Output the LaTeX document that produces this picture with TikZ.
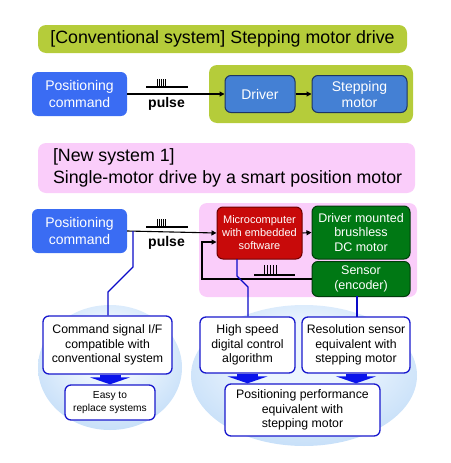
\documentclass[tikz,border=0pt]{standalone}
\usepackage{fontspec}
\setmainfont{Liberation Sans}
\usetikzlibrary{arrows.meta}
\definecolor{ygreen}{RGB}{181,204,58}
\definecolor{cmdblue}{RGB}{58,108,243}
\definecolor{drvblue}{RGB}{68,128,212}
\definecolor{drvedge}{RGB}{28,52,100}
\definecolor{pinkbg}{RGB}{250,205,250}
\definecolor{microred}{RGB}{200,10,10}
\definecolor{microedge}{RGB}{110,0,0}
\definecolor{dgreen}{RGB}{0,120,20}
\definecolor{dgreenedge}{RGB}{0,60,10}
\definecolor{conblue}{RGB}{10,10,200}
\definecolor{boxedge}{RGB}{25,25,205}
\definecolor{blockblue}{RGB}{10,20,235}
\definecolor{ellin}{RGB}{236,245,254}
\definecolor{ellout}{RGB}{155,198,242}
\pgfdeclareradialshading{ellshade}{\pgfpoint{0bp}{8bp}}{color(0bp)=(ellin); color(12bp)=(ellin); color(50bp)=(ellout); color(60bp)=(ellout)}
\begin{document}
\begin{tikzpicture}[x=1pt,y=-1pt,
  base/.style={rectangle, rounded corners=6pt, inner sep=0pt, align=center},
  titlebox/.style={base, rounded corners=8pt, fill=#1, draw=none, font=\fontsize{17.8}{22}\selectfont},
  titletext/.style={inner sep=0pt, align=left, font=\fontsize{17.8}{22}\selectfont},
  cmdbox/.style={base, fill=cmdblue, text=white, minimum width=95pt, minimum height=44pt, font=\fontsize{14}{17}\selectfont},
  drvbox/.style={base, fill=drvblue, draw=drvedge, line width=1pt, text=white, minimum height=37pt, font=\fontsize{14}{16}\selectfont},
  grpbox/.style={base, rounded corners=8pt, fill=#1, draw=none},
  redbox/.style={base, fill=microred, draw=microedge, line width=1pt, text=white, font=\fontsize{11}{13}\selectfont},
  grnbox/.style={base, fill=dgreen, draw=dgreenedge, line width=1pt, text=white, font=\fontsize{12.5}{14.5}\selectfont},
  whbox/.style={base, fill=white, draw=boxedge, line width=1.3pt, font=\fontsize{12.3}{14.5}\selectfont},
  arr/.style={line width=1.1pt, -{Triangle[length=5pt,width=5pt]}},
  con/.style={conblue, line width=1.3pt},
  block/.style={blockblue, line width=21pt, -{Triangle[length=7pt,width=40pt]}},
  pulse/.style={line width=1.2pt},
  lbl/.style={inner sep=0pt, font=\fontsize{14}{16}\selectfont\bfseries},
  ell/.style={shading=ellshade, draw=none}
]
\useasboundingbox (0,0) rectangle (450,463);

% ---------- Conventional system ----------
\node[titlebox=ygreen, minimum width=369pt, minimum height=28pt] (tit1) at (222.5,39) {[Conventional system] Stepping motor drive};
\node[cmdbox] (cmd1) at (79.5,94) {Positioning\\command};
\node[grpbox=ygreen, minimum width=204pt, minimum height=58pt] (grp1) at (311,94) {};
\node[drvbox, minimum width=70pt] (drv1) at (260,94) {Driver};
\node[drvbox, minimum width=95pt] (stm1) at (359.5,94) {Stepping\\motor};
\draw[arr] (cmd1.east) -- (drv1.west);
\draw[arr] (drv1.east) -- (stm1.west);
\draw[pulse] (146,87) -- (188,87);
\foreach \x in {157,159,161,163,165} \draw[line width=0.9pt] (\x,87) -- (\x,79);
\node[lbl] (pl1) at (166.5,104) {pulse};

% ---------- New system 1 ----------
\node[titlebox=pinkbg, minimum width=377pt, minimum height=50pt] (tit2) at (226.5,168) {};
\node[titletext, anchor=west] (tit2t) at ([xshift=15pt]tit2.west) {[New system 1]\\Single-motor drive by a smart position motor};
\node[cmdbox] (cmd2) at (79.5,231) {Positioning\\command};
\node[grpbox=pinkbg, minimum width=218pt, minimum height=94pt] (grp2) at (308,250) {};
\node[redbox, minimum width=85pt, minimum height=52pt] (mic) at (259.5,233) {Microcomputer\\with embedded\\software};
\node[grnbox, minimum width=98pt, minimum height=53pt] (bldc) at (361,232.5) {Driver mounted\\brushless\\DC motor};
\node[grnbox, minimum width=98pt, minimum height=35pt] (sens) at (361,279) {Sensor\\(encoder)};
\draw[arr] (cmd2.east) -- (mic.west);
\draw[arr] (mic.east) -- (bldc.west);
\coordinate (fb) at (202,242);
\draw[arr] (sens.west) -| (fb) -- (fb -| mic.west);
\draw[pulse] (146,227) -- (188,227);
\foreach \x in {157,159,161,163,165} \draw[line width=0.9pt] (\x,227) -- (\x,219);
\node[lbl] (pl2) at (166.5,243) {pulse};
\draw[pulse] (254,275) -- (295,275);
\foreach \x in {264,267,270,273,276} \draw[line width=1pt] (\x,275) -- (\x,265);

% ---------- Ellipses ----------
\path[ell] (110,367.5) ellipse [x radius=72, y radius=62.5];
\path[ell] (304,375.5) ellipse [x radius=113, y radius=70.5];

% ---------- Feature boxes ----------
\node[whbox, minimum width=129pt, minimum height=58pt] (cif) at (107.5,345) {Command signal I/F\\compatible with\\conventional system};
\node[whbox, minimum width=90pt, minimum height=35pt, font=\fontsize{10.2}{12.5}\selectfont] (easy) at (110,402.5) {Easy to\\replace systems};
\node[whbox, minimum width=95pt, minimum height=56pt] (hs) at (247.5,345) {High speed\\digital control\\algorithm};
\node[whbox, minimum width=108pt, minimum height=56pt] (res) at (356,345) {Resolution sensor\\equivalent with\\stepping motor};
\node[whbox, minimum width=155pt, minimum height=52pt] (perf) at (302.5,410) {Positioning performance\\equivalent with\\stepping motor};

% ---------- Blue connectors ----------
\coordinate (j1) at (133,231);
\coordinate (k1) at (108,292);
\coordinate (k2) at (248,287);
\draw[con] (j1) -- (133,267) -- (k1) -- (k1 |- cif.north);
\draw[con] (237,259) -- (237,276) -- (k2) -- (k2 |- hs.north);
\draw[con] (357,296) -- (357,317);

% ---------- Block arrows ----------
\draw[block] (easy.north |- cif.south) -- (easy.north);
\draw[block] (hs.south) -- (hs.south |- perf.north);
\draw[block] (res.south) -- (res.south |- perf.north);
\end{tikzpicture}
\end{document}
